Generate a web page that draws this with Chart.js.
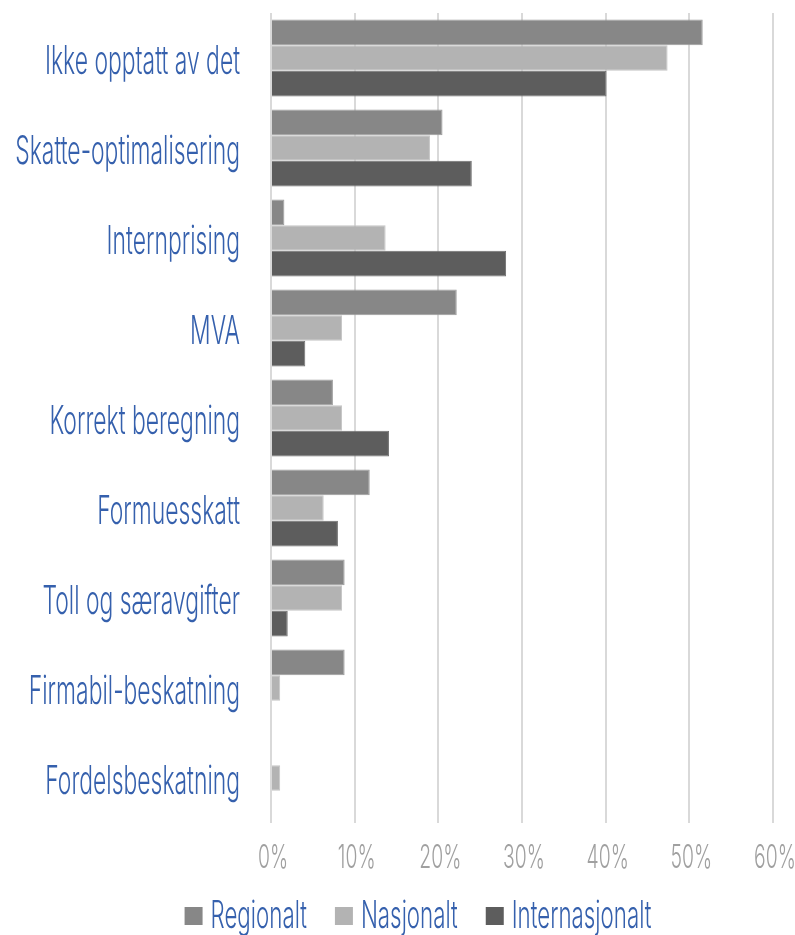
<!DOCTYPE html>
<html>
<head>
<meta charset="utf-8">
<script src="https://cdn.jsdelivr.net/npm/chart.js@4"></script>
<style>
  html, body { margin: 0; padding: 0; background: #fff; }
  #wrap { width: 795px; height: 935px; }
</style>
</head>
<body>
<div id="wrap"><canvas id="taxChart" width="795" height="935"></canvas></div>
<script>
const categories = ['Ikke opptatt av det', 'Skatte-optimalisering', 'Internprising', 'MVA',
  'Korrekt beregning', 'Formuesskatt', 'Toll og særavgifter', 'Firmabil-beskatning', 'Fordelsbeskatning'];
const regionalt = [51.6, 20.5, 1.6, 22.2, 7.4, 11.8, 8.8, 8.8, 0];
const nasjonalt = [47.4, 19.0, 13.7, 8.5, 8.5, 6.3, 8.5, 1.1, 1.1];
const internasjonalt = [40.1, 24.0, 28.1, 4.1, 14.1, 8.0, 2.0, 0, 0];
const xTicks = [0, 10, 20, 30, 40, 50, 60];

const fontFam = "Inter, 'DejaVu Sans', sans-serif";
const blue = '#3560ad';
const tickGrey = '#a0a0a0';

// the reference uses a very narrow font, so text is drawn squeezed horizontally
let squeeze = 0.5;
function narrowText(ctx, text, x, y, size, color, align) {
    ctx.save();
    ctx.font = '300 ' + size + 'px ' + fontFam;
    ctx.fillStyle = color;
    ctx.textBaseline = 'alphabetic';
    const w = ctx.measureText(text).width * squeeze;
    let left = x;
    if (align === 'right') left = x - w;
    if (align === 'center') left = x - w / 2;
    ctx.translate(left, y);
    ctx.scale(squeeze, 1);
    ctx.textAlign = 'left';
    ctx.fillText(text, 0, 0);
    ctx.restore();
    return w;
}

const narrowLabels = {
    id: 'narrowLabels',
    afterDraw(chart) {
        const ctx = chart.ctx;
        const xs = chart.scales.x, ys = chart.scales.y;

        // squeeze factor picked so the first label matches the reference width
        ctx.save();
        ctx.font = '300 39px ' + fontFam;
        squeeze = 195 / ctx.measureText(categories[0]).width;
        ctx.restore();

        categories.forEach((c, i) => {
            narrowText(ctx, c, 240, ys.getPixelForTick(i) + 16, 39, blue, 'right');
        });

        xTicks.forEach(v => {
            narrowText(ctx, v + '%', xs.getPixelForValue(v) + 2, 868, 33, tickGrey, 'center');
        });

        // legend
        const items = chart.data.datasets.map(d => ({ label: d.label, color: d.backgroundColor }));
        const lsize = 38;
        ctx.save();
        ctx.font = '300 ' + lsize + 'px ' + fontFam;
        const widths = items.map(it => ctx.measureText(it.label).width * squeeze);
        ctx.restore();
        const box = 18, gap = 8, itemGap = 28;
        const total = widths.reduce((a, w) => a + box + gap + w, 0) + itemGap * (items.length - 1);
        let x = 418 - total / 2;
        items.forEach((it, i) => {
            ctx.fillStyle = it.color;
            ctx.fillRect(x, 907, box, box);
            x += box + gap;
            narrowText(ctx, it.label, x, 928, lsize, blue, 'left');
            x += widths[i] + itemGap;
        });
    }
};

const ctx = document.getElementById('taxChart').getContext('2d');

new Chart(ctx, {
    type: 'bar',
    data: {
        labels: categories,
        datasets: [
            { label: 'Regionalt', data: regionalt, backgroundColor: '#878787', borderColor: '#9a9a9a', borderWidth: 1 },
            { label: 'Nasjonalt', data: nasjonalt, backgroundColor: '#b3b3b3', borderColor: '#c4c4c4', borderWidth: 1 },
            { label: 'Internasjonalt', data: internasjonalt, backgroundColor: '#5d5d5d', borderColor: '#707070', borderWidth: 1 }
        ]
    },
    options: {
        indexAxis: 'y',
        responsive: false,
        animation: false,
        layout: { padding: { top: 13, right: 22, left: 0, bottom: 0 } },
        datasets: { bar: { categoryPercentage: 0.857, barPercentage: 1.0 } },
        scales: {
            x: {
                min: 0,
                max: 60,
                afterBuildTicks: (scale) => { scale.ticks = xTicks.map(v => ({ value: v })); },
                afterFit: (scale) => { scale.height = 112; },
                grid: { color: '#d9d9d9', lineWidth: 2, drawTicks: false },
                border: { display: false },
                ticks: { display: false }
            },
            y: {
                grid: { display: false },
                border: { display: false },
                afterFit: (scale) => { scale.width = 271; },
                ticks: { display: false }
            }
        },
        plugins: {
            legend: { display: false },
            tooltip: { enabled: false }
        }
    },
    plugins: [narrowLabels]
});
</script>
</body>
</html>
